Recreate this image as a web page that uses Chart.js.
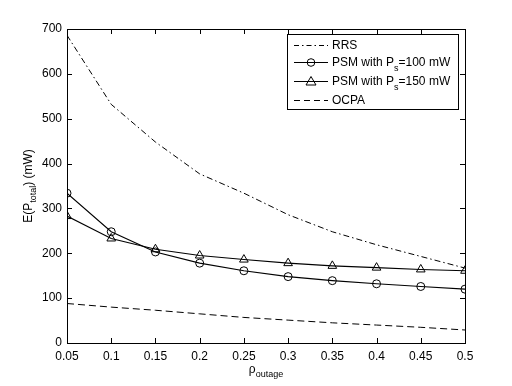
<!DOCTYPE html>
<html>
<head>
<meta charset="utf-8">
<script src="https://cdn.jsdelivr.net/npm/chart.js@4"></script>
<style>
  body{margin:0;background:#fff;}
  #wrap{width:512px;height:386px;}
</style>
</head>
<body>
<div id="wrap"><canvas id="myChart" width="512" height="386"></canvas></div>
<script>
// values
let rho = [0.05, 0.1, 0.15, 0.2, 0.25, 0.3, 0.35, 0.4, 0.45, 0.5];
let rrs = [686, 532, 448, 377, 334, 286, 248, 219, 193, 167];
let psm100 = [334, 248, 203, 178, 161, 148, 139, 132, 126, 120];
let psm150 = [283, 233, 209, 195, 186, 178, 172, 168, 164, 161];
let ocpa = [88, 80, 73, 65, 57, 51, 45, 40, 35, 29];
let xTicks = [0.05, 0.1, 0.15, 0.2, 0.25, 0.3, 0.35, 0.4, 0.45, 0.5];
let yTicks = [0, 100, 200, 300, 400, 500, 600, 700];

let font = '"Liberation Sans", Arial, sans-serif';

function pts(arr){
  return arr.map((v,i)=>({x:rho[i], y:v}));
}

// box, inward ticks, axis titles and legend
let matlabStyle = {
  id: 'matlabStyle',
  afterDraw(chart){
    let ctx = chart.ctx;
    let a = chart.chartArea;
    let xs = chart.scales.x, ys = chart.scales.y;
    ctx.save();
    ctx.strokeStyle = '#000';
    ctx.lineWidth = 1;
    ctx.strokeRect(Math.round(a.left)+0.5, Math.round(a.top)+0.5, Math.round(a.right-a.left), Math.round(a.bottom-a.top));
    ctx.beginPath();
    for(let v of xTicks){
      let px = Math.round(xs.getPixelForValue(v))+0.5;
      ctx.moveTo(px, a.bottom); ctx.lineTo(px, a.bottom-5);
      ctx.moveTo(px, a.top); ctx.lineTo(px, a.top+5);
    }
    for(let v of yTicks){
      let py = Math.round(ys.getPixelForValue(v))+0.5;
      ctx.moveTo(a.left, py); ctx.lineTo(a.left+5, py);
      ctx.moveTo(a.right, py); ctx.lineTo(a.right-5, py);
    }
    ctx.stroke();

    // x title
    ctx.fillStyle = '#000';
    ctx.textBaseline = 'alphabetic';
    let cx = (a.left+a.right)/2;
    ctx.font = '12px ' + font;
    let w1 = ctx.measureText('ρ').width;
    ctx.font = '9px ' + font;
    let w2 = ctx.measureText('outage').width;
    let sx = cx - (w1+w2)/2;
    ctx.font = '12px ' + font;
    ctx.textAlign = 'left';
    ctx.fillText('ρ', sx, 373);
    ctx.font = '9px ' + font;
    ctx.fillText('outage', sx+w1, 377);

    // y title
    ctx.save();
    ctx.translate(32, (a.top+a.bottom)/2);
    ctx.rotate(-Math.PI/2);
    ctx.font = '12px ' + font;
    let p1 = 'E(P', p3 = ') (mW)';
    let t1 = ctx.measureText(p1).width, t3 = ctx.measureText(p3).width;
    ctx.font = '9px ' + font;
    let t2 = ctx.measureText('total').width;
    let yx = -(t1+t2+t3)/2;
    ctx.font = '12px ' + font;
    ctx.fillText(p1, yx, 0);
    ctx.font = '9px ' + font;
    ctx.fillText('total', yx+t1, 4);
    ctx.font = '12px ' + font;
    ctx.fillText(p3, yx+t1+t2, 0);
    ctx.restore();

    // legend
    let lx = 287, ly = 34, lw = 171, lh = 75;
    ctx.fillStyle = '#fff';
    ctx.fillRect(lx, ly, lw, lh);
    ctx.strokeRect(lx+0.5, ly+0.5, lw, lh);
    let rows = [
      {y:45, dash:[5,3,1.5,3], mark:null, parts:[['RRS',0]]},
      {y:62, dash:[], mark:'circle', parts:[['PSM with P',0],['s',1],['=100 mW',0]]},
      {y:81, dash:[], mark:'triangle', parts:[['PSM with P',0],['s',1],['=150 mW',0]]},
      {y:100, dash:[6,4], mark:null, parts:[['OCPA',0]]}
    ];
    for(let r of rows){
      ctx.setLineDash(r.dash);
      ctx.beginPath();
      ctx.moveTo(294, r.y+0.5); ctx.lineTo(328, r.y+0.5);
      ctx.stroke();
      ctx.setLineDash([]);
      if(r.mark=='circle'){
        ctx.beginPath(); ctx.arc(311, r.y+0.5, 3.8, 0, Math.PI*2); ctx.stroke();
      }
      if(r.mark=='triangle'){
        ctx.beginPath();
        ctx.moveTo(311, r.y-4.5); ctx.lineTo(316, r.y+4); ctx.lineTo(306, r.y+4); ctx.closePath(); ctx.stroke();
      }
      let tx = 332;
      ctx.fillStyle = '#000';
      for(let p of r.parts){
        ctx.font = (p[1] ? '9px ' : '12px ') + font;
        ctx.fillText(p[0], tx, r.y + 4 + (p[1] ? 5 : 0));
        tx += ctx.measureText(p[0]).width;
      }
    }
    ctx.restore();
  }
};

new Chart('myChart', {
  type: 'scatter',
  data: {
    datasets: [
      {label:'RRS', data:pts(rrs), showLine:true, borderColor:'#000', borderWidth:1, borderDash:[6,3,1.5,3], pointRadius:0},
      {label:'PSM with Ps=100 mW', data:pts(psm100), showLine:true, borderColor:'#000', borderWidth:1.1, pointStyle:'circle', pointRadius:4, pointBorderWidth:1, pointBackgroundColor:'rgba(0,0,0,0)', pointBorderColor:'#000'},
      {label:'PSM with Ps=150 mW', data:pts(psm150), showLine:true, borderColor:'#000', borderWidth:1.1, pointStyle:'triangle', pointRadius:5, pointBorderWidth:1, pointBackgroundColor:'rgba(0,0,0,0)', pointBorderColor:'#000'},
      {label:'OCPA', data:pts(ocpa), showLine:true, borderColor:'#000', borderWidth:1, borderDash:[7,4], pointRadius:0}
    ]
  },
  options: {
    responsive: false,
    animation: false,
    layout: {padding: {left:0, right:47, top:29, bottom:0}},
    plugins: {legend:{display:false}, tooltip:{enabled:false}},
    scales: {
      x: {
        type:'linear', min:0.05, max:0.5,
        afterBuildTicks(s){ s.ticks = xTicks.map(v=>({value:v})); },
        afterFit(s){ s.height = 43; },
        grid:{display:false, drawTicks:false},
        border:{display:false},
        ticks:{color:'#000', font:{family:font, size:12}, padding:6, maxRotation:0, autoSkip:false,
          callback:(v)=>String(parseFloat(v.toFixed(2)))}
      },
      y: {
        min:0, max:700,
        afterBuildTicks(s){ s.ticks = yTicks.map(v=>({value:v})); },
        afterFit(s){ s.width = 67; },
        grid:{display:false, drawTicks:false},
        border:{display:false},
        ticks:{color:'#000', font:{family:font, size:12}, padding:5}
      }
    }
  },
  plugins: [matlabStyle]
});
</script>
</body>
</html>
